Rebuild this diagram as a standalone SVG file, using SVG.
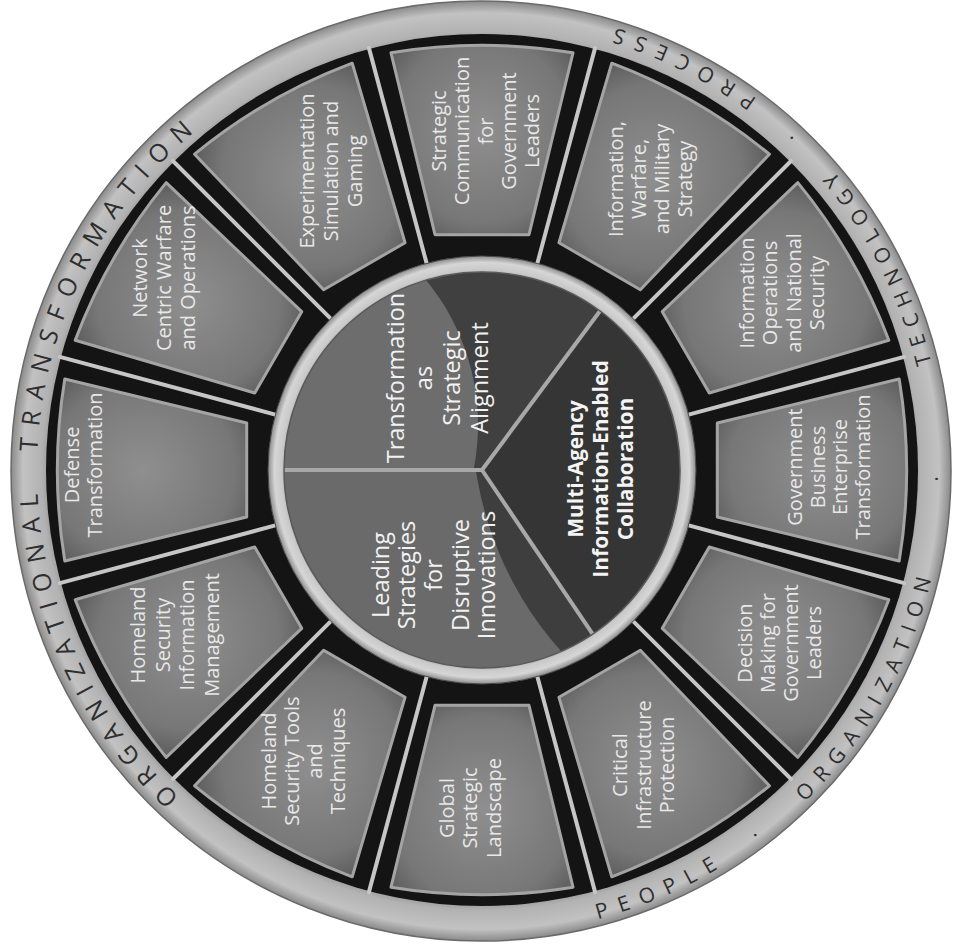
<svg xmlns="http://www.w3.org/2000/svg" width="954" height="951" viewBox="0 0 954 951">
<style>
.seg{font-family:"Open Sans","Noto Sans",sans-serif;font-size:20px;fill:#e8e8e8;text-anchor:middle}
.hub{font-family:"Open Sans","Noto Sans",sans-serif;font-size:23.5px;fill:#f2f2f2;text-anchor:middle}
.hubb{font-family:"Open Sans","Noto Sans",sans-serif;font-size:21px;font-weight:bold;fill:#f4f4f4;text-anchor:middle}
.ringT{font-family:"Open Sans","Noto Sans",sans-serif;font-size:25px;fill:#2e2e2e;text-anchor:middle}
.ringB{font-family:"Open Sans","Noto Sans",sans-serif;font-size:21px;fill:#2e2e2e;text-anchor:middle}
.panel{fill:url(#panelG);stroke:#a4a4a4;stroke-width:3;stroke-linejoin:round}
.div{stroke:#c6c6c6;stroke-width:4;stroke-linecap:round}
.hdiv{stroke:#a8a8a8;stroke-width:4}
</style>
<defs>
<radialGradient id="ringG" gradientUnits="userSpaceOnUse" cx="481" cy="471" r="470">
<stop offset="0.9" stop-color="#7d7d7d"/>
<stop offset="0.935" stop-color="#b2b2b2"/>
<stop offset="0.975" stop-color="#c2c2c2"/>
<stop offset="1" stop-color="#8a8a8a"/>
</radialGradient>
<radialGradient id="hubRingG" gradientUnits="userSpaceOnUse" cx="482" cy="470" r="214">
<stop offset="0.9" stop-color="#7a7a7a"/>
<stop offset="0.935" stop-color="#c9c9c9"/>
<stop offset="0.97" stop-color="#d6d6d6"/>
<stop offset="1" stop-color="#8c8c8c"/>
</radialGradient>
<radialGradient id="panelG" cx="0.5" cy="0.45" r="0.65">
<stop offset="0" stop-color="#8f8f8f"/>
<stop offset="0.75" stop-color="#777777"/>
<stop offset="1" stop-color="#5c5c5c"/>
</radialGradient>
<path id="panelShape" d="M391,52.8 A560,560 0 0 1 573,52.8 L529,234.7 L435,234.7 Z"/>
<path id="ringTop" d="M481,915 A444,444 0 1 1 481,27 A444,444 0 1 1 481,915"/>
<path id="ringBot" d="M481,934 A463,463 0 1 0 481,8 A463,463 0 1 0 481,934"/>
<clipPath id="clipUpper"><path d="M482,470 L284,470 A198,198 0 0 1 600,311 Z"/></clipPath>
<clipPath id="clipLower"><path d="M482,470 L592.7,634.2 A198,198 0 0 1 284,470 Z"/></clipPath>
</defs>
<rect width="954" height="951" fill="#ffffff"/>

<g id="outer-ring">
<circle cx="481" cy="471" r="470" fill="url(#ringG)" stroke="#6a6a6a" stroke-width="1.5"/>
<circle cx="482" cy="470" r="436" fill="#141414"/>
<text class="ringT" letter-spacing="10"><textPath href="#ringTop" startOffset="508">ORGANIZATIONAL</textPath></text>
<text class="ringT" letter-spacing="11"><textPath href="#ringTop" startOffset="905">TRANSFORMATION</textPath></text>
<text class="ringB" letter-spacing="11"><textPath href="#ringBot" startOffset="189">PEOPLE</textPath></text>
<text class="ringB"><textPath href="#ringBot" startOffset="299">·</textPath></text>
<text class="ringB" letter-spacing="9.6"><textPath href="#ringBot" startOffset="493">ORGANIZATION</textPath></text>
<text class="ringB"><textPath href="#ringBot" startOffset="719">·</textPath></text>
<text class="ringB" letter-spacing="8.8"><textPath href="#ringBot" startOffset="949">TECHNOLOGY</textPath></text>
<text class="ringB"><textPath href="#ringBot" startOffset="1107">·</textPath></text>
<text class="ringB" letter-spacing="11.5"><textPath href="#ringBot" startOffset="1244">PROCESS</textPath></text>
</g>

<g id="dividers">
<line class="div" x1="482" y1="256" x2="482" y2="33" transform="rotate(15 482 470)"/>
<line class="div" x1="482" y1="256" x2="482" y2="33" transform="rotate(45 482 470)"/>
<line class="div" x1="482" y1="256" x2="482" y2="33" transform="rotate(75 482 470)"/>
<line class="div" x1="482" y1="256" x2="482" y2="33" transform="rotate(105 482 470)"/>
<line class="div" x1="482" y1="256" x2="482" y2="33" transform="rotate(135 482 470)"/>
<line class="div" x1="482" y1="256" x2="482" y2="33" transform="rotate(165 482 470)"/>
<line class="div" x1="482" y1="256" x2="482" y2="33" transform="rotate(195 482 470)"/>
<line class="div" x1="482" y1="256" x2="482" y2="33" transform="rotate(225 482 470)"/>
<line class="div" x1="482" y1="256" x2="482" y2="33" transform="rotate(255 482 470)"/>
<line class="div" x1="482" y1="256" x2="482" y2="33" transform="rotate(285 482 470)"/>
<line class="div" x1="482" y1="256" x2="482" y2="33" transform="rotate(315 482 470)"/>
<line class="div" x1="482" y1="256" x2="482" y2="33" transform="rotate(345 482 470)"/>
</g>

<g id="seg-strategic-communication">
<use href="#panelShape" class="panel"/>
<text class="seg" transform="translate(485.5,131) rotate(-90)"><tspan x="0" y="-39.6">Strategic</tspan><tspan x="0" y="-16.3">Communication</tspan><tspan x="0" y="7">for</tspan><tspan x="0" y="30.3">Government</tspan><tspan x="0" y="53.6">Leaders</tspan></text>
</g>
<g id="seg-information-warfare">
<use href="#panelShape" class="panel" transform="rotate(30 482 470)"/>
<text class="seg" transform="translate(650.5,179) rotate(-90)"><tspan x="0" y="-27.95">Information,</tspan><tspan x="0" y="-4.65">Warfare,</tspan><tspan x="0" y="18.65">and Military</tspan><tspan x="0" y="41.95">Strategy</tspan></text>
</g>
<g id="seg-information-operations">
<use href="#panelShape" class="panel" transform="rotate(60 482 470)"/>
<text class="seg" transform="translate(782,293) rotate(-90)"><tspan x="0" y="-27.95">Information</tspan><tspan x="0" y="-4.65">Operations</tspan><tspan x="0" y="18.65">and National</tspan><tspan x="0" y="41.95">Security</tspan></text>
</g>
<g id="seg-government-business">
<use href="#panelShape" class="panel" transform="rotate(90 482 470)"/>
<text class="seg" transform="translate(829,467) rotate(-90)"><tspan x="0" y="-27.05">Government</tspan><tspan x="0" y="-4.35">Business</tspan><tspan x="0" y="18.35">Enterprise</tspan><tspan x="0" y="41.05">Transformation</tspan></text>
</g>
<g id="seg-decision-making">
<use href="#panelShape" class="panel" transform="rotate(120 482 470)"/>
<text class="seg" transform="translate(779.5,643) rotate(-90)"><tspan x="0" y="-27.5">Decision</tspan><tspan x="0" y="-4.5">Making for</tspan><tspan x="0" y="18.5">Government</tspan><tspan x="0" y="41.5">Leaders</tspan></text>
</g>
<g id="seg-critical-infrastructure">
<use href="#panelShape" class="panel" transform="rotate(150 482 470)"/>
<text class="seg" transform="translate(643.7,765) rotate(-90)"><tspan x="0" y="-16.5">Critical</tspan><tspan x="0" y="7">Infrastructure</tspan><tspan x="0" y="30.5">Protection</tspan></text>
</g>
<g id="seg-global-strategic">
<use href="#panelShape" class="panel" transform="rotate(180 482 470)"/>
<text class="seg" transform="translate(470,808) rotate(-90)"><tspan x="0" y="-16.5">Global</tspan><tspan x="0" y="7">Strategic</tspan><tspan x="0" y="30.5">Landscape</tspan></text>
</g>
<g id="seg-homeland-tools">
<use href="#panelShape" class="panel" transform="rotate(210 482 470)"/>
<text class="seg" transform="translate(303,761) rotate(-90)"><tspan x="0" y="-27.5">Homeland</tspan><tspan x="0" y="-4.5">Security Tools</tspan><tspan x="0" y="18.5">and</tspan><tspan x="0" y="41.5">Techniques</tspan></text>
</g>
<g id="seg-homeland-information">
<use href="#panelShape" class="panel" transform="rotate(240 482 470)"/>
<text class="seg" transform="translate(175,635) rotate(-90)"><tspan x="0" y="-30.05">Homeland</tspan><tspan x="0" y="-5.35">Security</tspan><tspan x="0" y="19.35">Information</tspan><tspan x="0" y="44.05">Management</tspan></text>
</g>
<g id="seg-defense-transformation">
<use href="#panelShape" class="panel" transform="rotate(270 482 470)"/>
<text class="seg" transform="translate(83.5,465) rotate(-90)"><tspan x="0" y="-4.5">Defense</tspan><tspan x="0" y="18.5">Transformation</tspan></text>
</g>
<g id="seg-network-centric">
<use href="#panelShape" class="panel" transform="rotate(300 482 470)"/>
<text class="seg" transform="translate(164,278) rotate(-90)"><tspan x="0" y="-17">Network</tspan><tspan x="0" y="7">Centric Warfare</tspan><tspan x="0" y="31">and Operations</tspan></text>
</g>
<g id="seg-experimentation">
<use href="#panelShape" class="panel" transform="rotate(330 482 470)"/>
<text class="seg" transform="translate(331,171) rotate(-90)"><tspan x="0" y="-17">Experimentation</tspan><tspan x="0" y="7">Simulation and</tspan><tspan x="0" y="31">Gaming</tspan></text>
</g>

<g id="hub-ring">
<circle cx="482" cy="470" r="214" fill="url(#hubRingG)" stroke="#4a4a4a" stroke-width="1"/>
</g>

<g id="hub-transformation">
<path d="M482,470 L284,470 A198,198 0 0 1 600,311 Z" fill="#404040"/>
<circle cx="250" cy="425" r="228" fill="#6d6d6d" clip-path="url(#clipUpper)"/>
<text class="hub" transform="translate(437.5,378) rotate(-90)"><tspan x="0" y="-33.05">Transformation</tspan><tspan x="0" y="-5.35">as</tspan><tspan x="0" y="22.35">Strategic</tspan><tspan x="0" y="50.05">Alignment</tspan></text>
</g>
<g id="hub-collaboration">
<path d="M482,470 L600,311 A198,198 0 0 1 592.7,634.2 Z" fill="#353535"/>
<text class="hubb" transform="translate(600,469) rotate(-90)"><tspan x="0" y="-17.5">Multi-Agency</tspan><tspan x="0" y="7.5">Information-Enabled</tspan><tspan x="0" y="32.5">Collaboration</tspan></text>
</g>
<g id="hub-leading">
<path d="M482,470 L592.7,634.2 A198,198 0 0 1 284,470 Z" fill="#6a6a6a"/>
<circle cx="822" cy="418" r="350" fill="#3e3e3e" clip-path="url(#clipLower)"/>
<text class="hub" transform="translate(433.5,575) rotate(-90)"><tspan x="0" y="-44.9">Leading</tspan><tspan x="0" y="-18.2">Strategies</tspan><tspan x="0" y="8.5">for</tspan><tspan x="0" y="35.2">Disruptive</tspan><tspan x="0" y="61.9">Innovations</tspan></text>
</g>
<g id="hub-dividers">
<line class="hdiv" x1="482" y1="470" x2="284" y2="470"/>
<line class="hdiv" x1="482" y1="470" x2="600" y2="311"/>
<line class="hdiv" x1="482" y1="470" x2="592.7" y2="634.2"/>
<circle cx="482" cy="470" r="198" fill="none" stroke="#5a5a5a" stroke-width="1.5"/>
</g>
</svg>
